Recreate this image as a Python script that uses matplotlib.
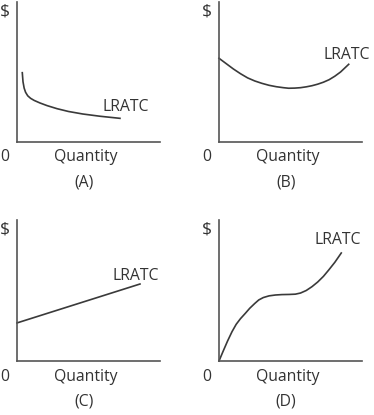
import matplotlib
matplotlib.use("Agg")
import matplotlib.pyplot as plt

plt.rcParams['font.family'] = ['Open Sans', 'DejaVu Sans']

# curve values (axes run 0..10 both ways)
a_x = [0.37, 0.42, 0.5, 0.6, 0.75, 0.95, 1.2, 1.6, 2.1, 2.8, 3.6, 4.6, 5.8, 7.2]
a_y = [4.95, 4.3, 3.85, 3.55, 3.3, 3.12, 2.97, 2.79, 2.6, 2.38, 2.18, 2.0, 1.84, 1.69]

b_x = [0, 0.5, 1.0, 1.5, 2.0, 2.5, 3.0, 3.5, 4.0, 4.5, 4.87, 5.3, 5.7, 6.1, 6.5,
       6.9, 7.3, 7.7, 8.1, 8.5, 9.07]
b_y = [5.98, 5.6, 5.22, 4.88, 4.58, 4.36, 4.19, 4.05, 3.95, 3.88, 3.84, 3.85, 3.88,
       3.94, 4.02, 4.13, 4.27, 4.45, 4.7, 5.0, 5.55]

c_x = [0, 8.6]
c_y = [2.7, 5.46]

d_x = [0, 0.3, 0.6, 0.91, 1.2, 1.5, 1.84, 2.15, 2.5, 2.78, 3.1, 3.5, 3.94, 4.4,
       4.9, 5.34, 5.7, 6.1, 6.5, 6.9, 7.3, 7.67, 8.1, 8.55]
d_y = [0, 0.72, 1.42, 2.08, 2.6, 3.0, 3.38, 3.74, 4.08, 4.33, 4.5, 4.62, 4.68, 4.71,
       4.72, 4.74, 4.82, 5.0, 5.27, 5.6, 6.0, 6.45, 7.0, 7.66]

panels = ['(A)', '(B)', '(C)', '(D)']
curves = [(a_x, a_y), (b_x, b_y), (c_x, c_y), (d_x, d_y)]
label_pos = [(6.0, 2.5), (7.34, 6.2), (6.7, 6.0), (6.7, 8.6)]

# axes boxes in figure fractions
boxes = [
    [17/374, 1 - 142/415, 143/374, 140/415],
    [219/374, 1 - 142/415, 143/374, 140/415],
    [17/374, 1 - 361/415, 143/374, 141/415],
    [219/374, 1 - 361/415, 143/374, 141/415],
]

txt = '#333333'
fs = 11.3
fig = plt.figure(figsize=(3.74, 4.15), dpi=100)

for i in range(4):
    ax = fig.add_axes(boxes[i])
    ax.set_xlim(0, 10)
    ax.set_ylim(0, 10)
    ax.spines['top'].set_visible(False)
    ax.spines['right'].set_visible(False)
    for s in ['left', 'bottom']:
        ax.spines[s].set_color('#555555')
        ax.spines[s].set_linewidth(1.2)
    ax.set_xticks([])
    ax.set_yticks([])
    ax.patch.set_visible(False)

    x, y = curves[i]
    ax.plot(x, y, color='#3a3a3a', lw=1.2, clip_on=False, solid_joinstyle='round')
    lx, ly = label_pos[i]
    ax.text(lx, ly, 'LRATC', fontsize=fs, color=txt, va='center', ha='left')

    ax.text(-0.084, 0.935, '$', transform=ax.transAxes, fontsize=12.5, color=txt, ha='center', va='center')
    ax.text(-0.084, -0.11, '0', transform=ax.transAxes, fontsize=fs, color=txt, ha='center', va='center')
    ax.text(0.48, -0.11, 'Quantity', transform=ax.transAxes, fontsize=fs, color=txt, ha='center', va='center')
    ax.text(0.47, -0.29, panels[i], transform=ax.transAxes, fontsize=fs, color=txt, ha='center', va='center')

fig.savefig('out.png', dpi=100)
